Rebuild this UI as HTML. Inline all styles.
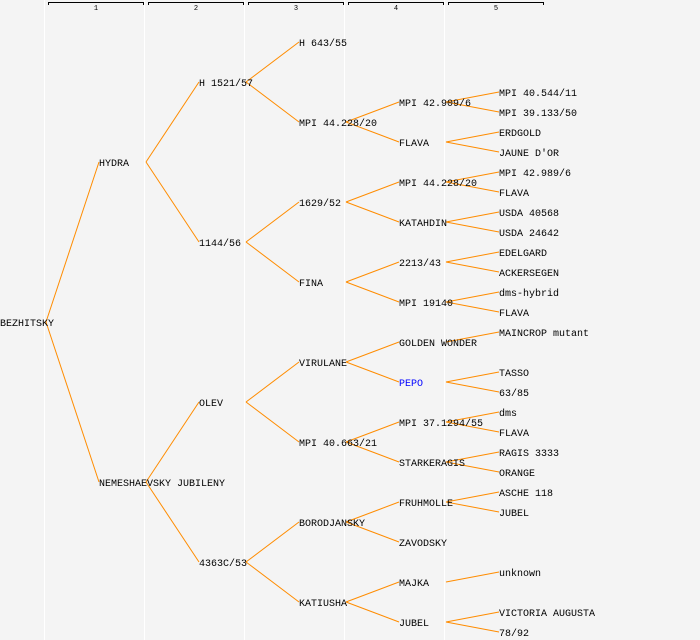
<!DOCTYPE html>
<html><head><meta charset="utf-8"><style>
html,body{margin:0;padding:0;background:#f4f4f4;}
svg{display:block;}
text{font-family:"Liberation Mono","DejaVu Sans Mono",monospace;font-size:10px;fill:#000;}
.hd{font-size:7px;}
</style></head><body>
<svg id="chart" width="700" height="640" viewBox="0 0 700 640" xmlns="http://www.w3.org/2000/svg">
<g id="grid"></g><g id="links"></g><g id="nodes"></g>
</svg>
<script>
// Pedigree names per generation in full binary tree order ("" = empty slot)
const gen0 = ["BEZHITSKY"];
const gen1 = ["HYDRA","NEMESHAEVSKY JUBILENY"];
const gen2 = ["H 1521/57","1144/56","OLEV","4363C/53"];
const gen3 = ["H 643/55","MPI 44.228/20","1629/52","FINA","VIRULANE","MPI 40.663/21","BORODJANSKY","KATIUSHA"];
const gen4 = ["","","MPI 42.909/6","FLAVA","MPI 44.228/20","KATAHDIN","2213/43","MPI 19140","GOLDEN WONDER","PEPO","MPI 37.1294/55","STARKERAGIS","FRUHMOLLE","ZAVODSKY","MAJKA","JUBEL"];
const gen5 = ["","","","","MPI 40.544/11","MPI 39.133/50","ERDGOLD","JAUNE D'OR","MPI 42.989/6","FLAVA","USDA 40568","USDA 24642","EDELGARD","ACKERSEGEN","dms-hybrid","FLAVA","MAINCROP mutant","","TASSO","63/85","dms","FLAVA","RAGIS 3333","ORANGE","ASCHE 118","JUBEL","","","unknown","","VICTORIA AUGUSTA","78/92"];
const highlighted = ["PEPO"];
const columnLabels = ["1","2","3","4","5"];

const gens = [gen0,gen1,gen2,gen3,gen4,gen5];
const NS = "http://www.w3.org/2000/svg";
const gridG = document.getElementById('grid');
const linksG = document.getElementById('links');
const nodesG = document.getElementById('nodes');
function mk(tag, attrs){const e=document.createElementNS(NS,tag);for(const k in attrs)e.setAttribute(k,attrs[k]);return e;}
const colX = g => (g===0?0:g*100-1);
const rowY = (g,i) => { const span = 640/Math.pow(2,g); return 12 - 10 + span*i + span/2 - 8 + 8 - (span/2 - 10) + (span/2 - 10); };
function yOf(g,i){ const leaves = 32/Math.pow(2,g); return 12 + 20*(leaves*i + (leaves-1)/2); }

// column separators and header brackets
columnLabels.forEach((lab,c)=>{
  const sx = 44.5 + c*100;
  const sep = mk('line',{x1:sx,y1:0,x2:sx,y2:640,stroke:'#ffffff','stroke-width':1});
  
  
  gridG.appendChild(sep);
  const x1 = 48 + c*100, x2 = 143 + c*100;
  const br = mk('path',{d:`M${x1}.5 5V2.5H${x2}.5V5`,fill:'none',stroke:'#000','stroke-width':1});
  
  
  gridG.appendChild(br);
  const t = mk('text',{x:(x1+x2)/2+0.5,y:10,'text-anchor':'middle',class:'hd'});
  t.textContent = lab;
  
  
  gridG.appendChild(t);
});
const sepLast = mk('line',{x1:544.5,y1:0,x2:544.5,y2:0,stroke:'#fff'});
gridG.appendChild(sepLast);

// links and nodes
gens.forEach((arr,g)=>{
  arr.forEach((name,i)=>{
    if(!name) return;
    const y = yOf(g,i);
    if(g>0){
      const pi = Math.floor(i/2);
      const px = (g-1)*100 + 46;
      const py = yOf(g-1,pi);
      const l = mk('line',{x1:px,y1:py,x2:colX(g),y2:y,stroke:'#ff8c00','stroke-width':1});
      
      
      linksG.appendChild(l);
    }
    const t = mk('text',{x:colX(g),y:y+4});
    if(highlighted.includes(name) && g===4) t.setAttribute('style','fill:#0000ff');
    t.textContent = name;
    
    
    nodesG.appendChild(t);
  });
});
</script>
</body></html>
